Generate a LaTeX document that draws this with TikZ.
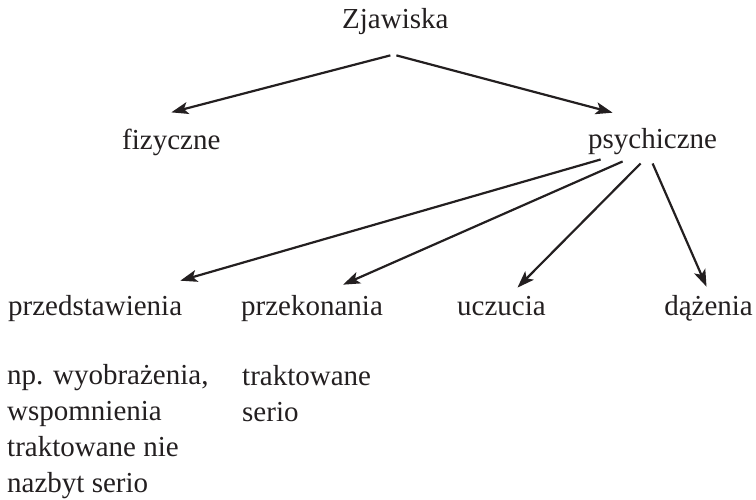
\documentclass[tikz,border=0pt]{standalone}
\usepackage{fontspec}
\setmainfont{Liberation Serif}
\usetikzlibrary{arrows.meta}
\definecolor{ink}{HTML}{231F20}
\begin{document}
\begin{tikzpicture}[x=1pt,y=-1pt,line join=round,
	every node/.style={font=\fontsize{29}{36}\selectfont,text=ink,inner sep=0pt},
	strzalka/.style={draw=ink,line width=2.2pt,-{Stealth[length=17pt,width=12pt,inset=4pt]}}]
			\useasboundingbox (0,0) rectangle (756,499);
			% poziom 0 i 1
			\node[anchor=base west] (zj) at (342,28) {Zjawiska};
			\node[anchor=base west] (fiz) at (122,149) {fizyczne};
			\node[anchor=base west] (psy) at (588,148) {psychiczne};
			% poziom 2
			\node[anchor=base west] (prz) at (8,315) {przedstawienia};
			\node[anchor=base west] (prk) at (241,315) {przekonania};
			\node[anchor=base west] (ucz) at (457,315) {uczucia};
			\node[anchor=base east] (daz) at (753,315) {dążenia};
			% opisy (base = ostatnia linia)
			\node[anchor=base west,align=left] (opisPrz) at (7,492)
			{np. wyobrażenia,\\ wspomnienia\\ traktowane nie\\ nazbyt serio};
			\node[anchor=base west,align=left] (opisPrk) at (242,421)
			{traktowane\\ serio};
			% punkty startowe
			\path
			([xshift=-5pt,yshift=-21pt]zj.south) coordinate (zjL)
			([xshift=1pt,yshift=-21pt]zj.south) coordinate (zjR)
			([xshift=-52pt,yshift=-5pt]psy.south) coordinate (psy1)
			([xshift=-30pt,yshift=-7pt]psy.south) coordinate (psy2)
			([xshift=-12pt,yshift=-9pt]psy.south) coordinate (psy3)
			([xshift=0pt,yshift=-9pt]psy.south) coordinate (psy4);
			\draw[strzalka] (zjL) -- ([yshift=16pt]fiz.north);
			\draw[strzalka] (zjR) -- ([xshift=-40pt,yshift=15pt]psy.north);
			\draw[strzalka] (psy1) -- ([xshift=-2pt,yshift=14pt]prz.north east);
			\draw[strzalka] (psy2) -- ([xshift=31pt,yshift=10pt]prk.north);
			\draw[strzalka] (psy3) -- ([xshift=16pt,yshift=8pt]ucz.north);
			\draw[strzalka] (psy4) -- ([xshift=-2pt,yshift=8pt]daz.north);
		\end{tikzpicture}
\end{document}
